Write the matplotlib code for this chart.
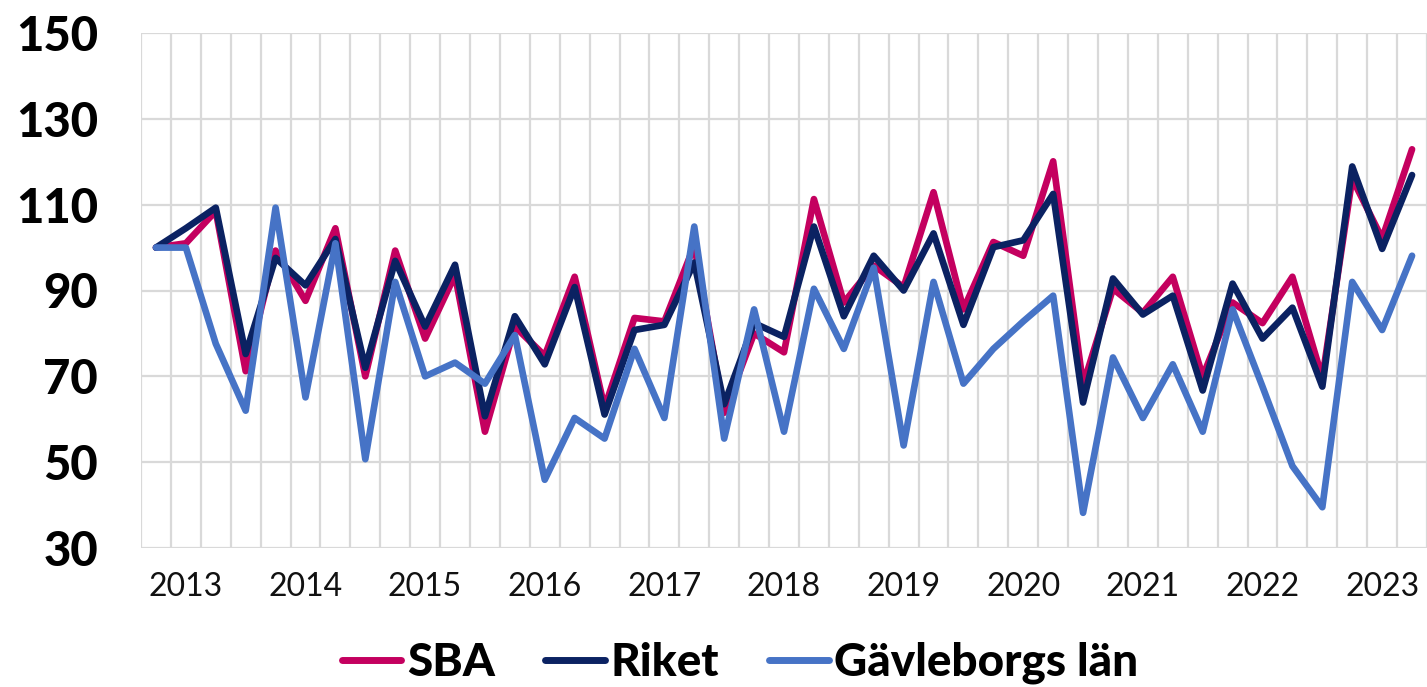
import matplotlib
matplotlib.use("Agg")
import matplotlib.pyplot as plt
import numpy as np
from matplotlib.ticker import FixedLocator, NullFormatter

# Data (quarterly index, 2013 Q1 .. 2023 Q3)
years = ['2013', '2014', '2015', '2016', '2017', '2018', '2019', '2020', '2021', '2022', '2023']
series_names = ['SBA', 'Riket', 'Gävleborgs län']

sba = [100, 101, 108.5, 71.2, 99.3, 87.6, 104.5, 70, 99.3, 78.8,
       93.6, 57.1, 81.6, 74.8, 93.2, 62.7, 83.6, 82.8, 100.5, 61.5,
       80, 75.6, 111.3, 87.2, 95.8, 90.8, 112.9, 85.6, 101.3, 98.1,
       120.1, 68.0, 90.4, 84.8, 93.2, 70.0, 87.2, 82.4, 93.2, 69.6,
       116.1, 102.1, 122.9]
riket = [100, 104.5, 109.3, 75.2, 97.6, 91.2, 102, 72.0, 96.9, 81.6,
         96.0, 60.7, 84.0, 72.8, 90.8, 61.1, 80.8, 82.0, 96.5, 63.5,
         82.4, 79.2, 104.9, 84.0, 98.1, 90.0, 103.3, 82.0, 100.1, 101.7,
         112.5, 63.9, 92.8, 84.4, 88.8, 66.7, 91.6, 78.8, 86.0, 67.6,
         118.9, 99.7, 116.9]
gavleborg = [100, 100, 77.6, 62.0, 109.3, 65.1, 101, 50.7, 92.0, 70.0,
             73.2, 68.3, 79.6, 45.9, 60.3, 55.5, 76.4, 60.3, 104.9, 55.5,
             85.6, 57.1, 90.4, 76.4, 95.3, 53.9, 92.0, 68.3, 76.4, 82.8,
             88.8, 38.2, 74.4, 60.3, 72.8, 57.1, 85.6, 67.6, 49.1, 39.5,
             92.0, 80.8, 98.1]

colors = ['#C4005F', '#0B2262', '#4673C6']
grid_color = '#D9D9D9'

W, H = 1427, 687
fig = plt.figure(figsize=(W / 100, H / 100), dpi=100)
ax = fig.add_axes([141 / W, 1 - 548 / H, (1427 - 141) / W, (548 - 33) / H])

n = len(sba)
x = np.arange(n)
for vals, name, c in zip([sba, riket, gavleborg], series_names, colors):
    ax.plot(x, vals, color=c, lw=4.8, label=name, solid_joinstyle='round',
            solid_capstyle='round', zorder=3)

ax.set_xlim(-0.5, n - 0.5)
ax.set_ylim(30, 150)
ax.set_yticks(np.arange(30, 151, 20))

# year labels on Q2 of each year, gridlines at category boundaries
ax.set_xticks(np.arange(1, n, 4))
ax.set_xticklabels(years)
ax.xaxis.set_minor_locator(FixedLocator(np.arange(-0.5, n, 1)))
ax.xaxis.set_minor_formatter(NullFormatter())
ax.grid(True, which='minor', axis='x', color=grid_color, lw=1.6, zorder=0)
ax.grid(True, which='major', axis='y', color=grid_color, lw=1.6, zorder=0)
ax.grid(False, which='major', axis='x')
for s in ax.spines.values():
    s.set_visible(False)
ax.tick_params(axis='both', which='both', length=0)
ax.tick_params(axis='y', pad=31)
ax.tick_params(axis='x', pad=17)

for lab in ax.get_yticklabels():
    lab.set_family('Lato')
    lab.set_fontweight('black')
    lab.set_fontsize(34)
for lab in ax.get_xticklabels():
    lab.set_family('Lato')
    lab.set_fontsize(23)
    lab.set_color('#111111')

leg = fig.legend(loc='center', bbox_to_anchor=(740 / W, 1 - 663 / H), ncol=3,
                 frameon=False, handlelength=1.3, handletextpad=0.12,
                 columnspacing=1.1,
                 prop={'family': 'Lato', 'weight': 'black', 'size': 33})
for line in leg.get_lines():
    line.set_linewidth(5)

fig.savefig('out.png', dpi=100)
